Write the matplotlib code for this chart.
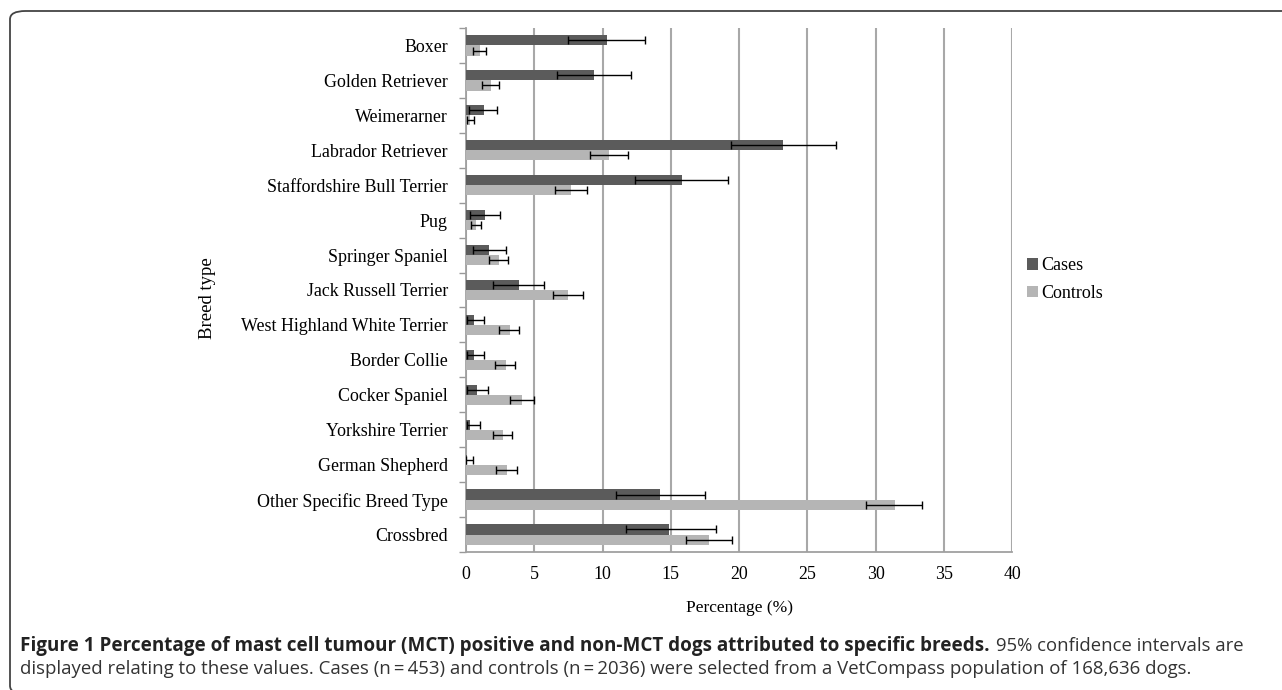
import matplotlib
matplotlib.use("Agg")
import matplotlib.pyplot as plt
import numpy as np
from matplotlib.patches import FancyBboxPatch

breeds = ["Boxer", "Golden Retriever", "Weimerarner", "Labrador Retriever",
          "Staffordshire Bull Terrier", "Pug", "Springer Spaniel",
          "Jack Russell Terrier", "West Highland White Terrier", "Border Collie",
          "Cocker Spaniel", "Yorkshire Terrier", "German Shepherd",
          "Other Specific Breed Type", "Crossbred"]

cases = [10.3, 9.4, 1.3, 23.2, 15.8, 1.4, 1.7, 3.9, 0.6, 0.6, 0.8, 0.3, 0.1, 14.2, 14.9]
cases_lo = [7.5, 6.7, 0.2, 19.4, 12.4, 0.3, 0.5, 2.0, 0.1, 0.1, 0.1, 0.05, 0.0, 11.0, 11.7]
cases_hi = [13.1, 12.1, 2.3, 27.1, 19.2, 2.5, 2.9, 5.7, 1.3, 1.3, 1.6, 1.0, 0.5, 17.5, 18.3]

controls = [1.0, 1.8, 0.3, 10.5, 7.7, 0.7, 2.4, 7.5, 3.2, 2.9, 4.1, 2.7, 3.0, 31.4, 17.8]
controls_lo = [0.5, 1.2, 0.05, 9.1, 6.5, 0.35, 1.7, 6.4, 2.4, 2.1, 3.2, 2.0, 2.2, 29.3, 16.1]
controls_hi = [1.5, 2.4, 0.6, 11.9, 8.9, 1.1, 3.1, 8.6, 3.9, 3.6, 5.0, 3.4, 3.7, 33.4, 19.5]

xticks = [0, 5, 10, 15, 20, 25, 30, 35, 40]

serif = "Liberation Serif"
cap_font = "Open Sans"

fig = plt.figure(figsize=(12.82, 6.9), dpi=100)

# frame box around figure + caption
box = FancyBboxPatch((10 / 1282, -4 / 690), 1.2, (679 + 4) / 690,
                     boxstyle="round,pad=0,rounding_size=0.012",
                     transform=fig.transFigure, fill=False,
                     edgecolor="#444444", linewidth=1.3, clip_on=False)
fig.patches.append(box)

ax = fig.add_axes([466 / 1282, 1 - 552 / 690, (1012 - 466) / 1282, (552 - 28) / 690])

y = np.arange(len(breeds))
h = 0.29
c_case = "#5b5b5b"
c_ctrl = "#b5b5b5"

ax.barh(y - h / 2, cases, height=h, color=c_case, label="Cases", zorder=3)
ax.barh(y + h / 2, controls, height=h, color=c_ctrl, label="Controls", zorder=3)

cases_a = np.array(cases); controls_a = np.array(controls)
ax.errorbar(cases_a, y - h / 2,
            xerr=[cases_a - np.array(cases_lo), np.array(cases_hi) - cases_a],
            fmt="none", ecolor="black", elinewidth=1.0, capsize=2.6, capthick=1.0, zorder=4)
ax.errorbar(controls_a, y + h / 2,
            xerr=[controls_a - np.array(controls_lo), np.array(controls_hi) - controls_a],
            fmt="none", ecolor="black", elinewidth=1.0, capsize=2.6, capthick=1.0, zorder=4)

fs = 12.9
ax.set_xlim(0, 40)
ax.set_ylim(len(breeds) - 0.5, -0.5)
ax.set_xticks(xticks)
ax.set_xticklabels([str(t) for t in xticks], fontfamily=serif, fontsize=fs)
ax.set_yticks(y)
ax.set_yticklabels(breeds, fontfamily=serif, fontsize=fs)
ax.set_yticks(np.arange(-0.5, len(breeds), 1.0), minor=True)
ax.tick_params(axis="y", which="major", length=0, pad=13)
ax.tick_params(axis="y", which="minor", length=5, color="#999999", width=1)
ax.tick_params(axis="x", which="major", length=0, pad=10)

ax.grid(axis="x", color="#a8a8a8", linewidth=1.5, zorder=0)
for s in ["top", "right"]:
    ax.spines[s].set_visible(False)
for s in ["left", "bottom"]:
    ax.spines[s].set_color("#a0a0a0")
    ax.spines[s].set_linewidth(1.3)

ax.set_xlabel("Percentage (%)", fontfamily=serif, fontsize=12.5, labelpad=12)
fig.text(207 / 1282, 1 - 298 / 690, "Breed type", rotation=90, fontfamily=serif,
         fontsize=13.5, ha="center", va="center")

leg = fig.legend(loc="upper left", bbox_to_anchor=(1011 / 1282, 1 - 241 / 690),
                 frameon=False, prop={"family": serif, "size": 13},
                 handlelength=0.6, handleheight=0.6, handletextpad=0.2,
                 labelspacing=0.6)

# caption
fig.canvas.draw()
r = fig.canvas.get_renderer()
t1 = fig.text(20 / 1282, 1 - 646 / 690,
              "Figure 1 Percentage of mast cell tumour (MCT) positive and non-MCT dogs attributed to specific breeds.",
              fontfamily=cap_font, fontweight="bold", fontsize=13.6, va="center", ha="left", color="#222222")
bb = t1.get_window_extent(renderer=r)
fig.text((bb.x1 + 6) / 1282, 1 - 646 / 690, "95% confidence intervals are",
         fontfamily=cap_font, fontsize=13.3, va="center", ha="left", color="#333333")
fig.text(20 / 1282, 1 - 669 / 690,
         "displayed relating to these values. Cases (n\u2009=\u2009453) and controls (n\u2009=\u20092036) were selected from a VetCompass population of 168,636 dogs.",
         fontfamily=[cap_font, "DejaVu Sans"], fontsize=13.4, va="center", ha="left", color="#333333")

fig.savefig("out.png", dpi=100)
